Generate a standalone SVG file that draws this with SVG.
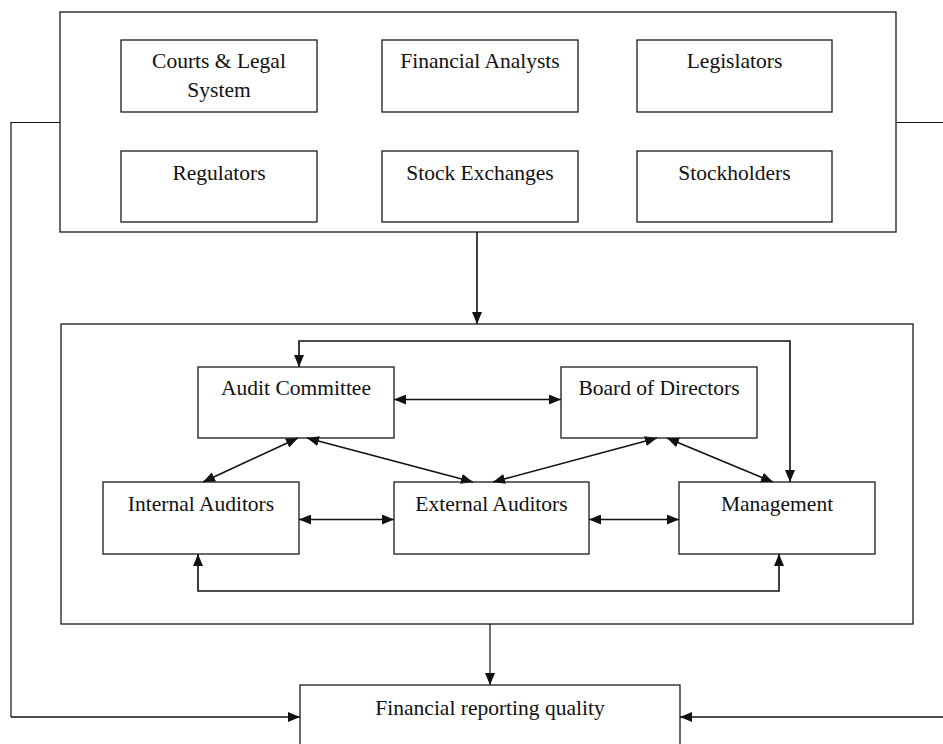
<svg xmlns="http://www.w3.org/2000/svg" width="943" height="744" viewBox="0 0 943 744">
  <style>
    .box { fill: #ffffff; stroke: #1a1a1a; stroke-width: 1.3; }
    .frame { fill: none; stroke: #1a1a1a; stroke-width: 1.3; }
    .lbl { font-family: "Liberation Serif", "Times New Roman", serif; font-size: 21.5px; fill: #111111; text-anchor: middle; }
    .wire { fill: none; stroke: #111111; stroke-width: 1.6; }
    .thin { fill: none; stroke: #111111; stroke-width: 1.2; }
  </style>
  <defs>
    <marker id="arrow" viewBox="0 0 12 10" refX="12" refY="5" markerWidth="12" markerHeight="10" markerUnits="userSpaceOnUse" orient="auto-start-reverse">
      <path d="M0,0 L12,5 L0,10 z" fill="#111111"/>
    </marker>
  </defs>

  <!-- external stakeholders -->
  <g id="stakeholders">
    <rect class="frame" x="60" y="12" width="836" height="220"/>
  </g>
  <g id="courts">
    <rect class="box" x="121" y="40" width="196" height="72"/>
    <text class="lbl" x="219" y="68">Courts &amp; Legal</text>
    <text class="lbl" x="219" y="97">System</text>
  </g>
  <g id="analysts">
    <rect class="box" x="382" y="40" width="196" height="72"/>
    <text class="lbl" x="480" y="68">Financial Analysts</text>
  </g>
  <g id="legislators">
    <rect class="box" x="637" y="40" width="195" height="72"/>
    <text class="lbl" x="734.5" y="68">Legislators</text>
  </g>
  <g id="regulators">
    <rect class="box" x="121" y="151" width="196" height="71"/>
    <text class="lbl" x="219" y="180">Regulators</text>
  </g>
  <g id="exchanges">
    <rect class="box" x="382" y="151" width="196" height="71"/>
    <text class="lbl" x="480" y="180">Stock Exchanges</text>
  </g>
  <g id="stockholders">
    <rect class="box" x="637" y="151" width="195" height="71"/>
    <text class="lbl" x="734.5" y="180">Stockholders</text>
  </g>

  <!-- corporate governance -->
  <g id="governance">
    <rect class="frame" x="61" y="324" width="852" height="300"/>
  </g>
  <g id="audit-committee">
    <rect class="box" x="198" y="367" width="196" height="71"/>
    <text class="lbl" x="296" y="395">Audit Committee</text>
  </g>
  <g id="board">
    <rect class="box" x="561" y="367" width="196" height="71"/>
    <text class="lbl" x="659" y="395">Board of Directors</text>
  </g>
  <g id="internal-auditors">
    <rect class="box" x="103" y="482" width="196" height="72"/>
    <text class="lbl" x="201" y="511">Internal Auditors</text>
  </g>
  <g id="external-auditors">
    <rect class="box" x="394" y="482" width="195" height="72"/>
    <text class="lbl" x="491.5" y="511">External Auditors</text>
  </g>
  <g id="management">
    <rect class="box" x="679" y="482" width="196" height="72"/>
    <text class="lbl" x="777" y="511">Management</text>
  </g>

  <!-- outcome -->
  <g id="reporting-quality">
    <rect class="box" x="300" y="685" width="380" height="70"/>
    <text class="lbl" x="490" y="715">Financial reporting quality</text>
  </g>

  <g id="connectors">
    <!-- stakeholders to governance -->
    <line class="wire" x1="477" y1="232" x2="477" y2="324" marker-end="url(#arrow)"/>
    <!-- governance to reporting quality -->
    <line class="thin" x1="490" y1="624" x2="490" y2="685" marker-end="url(#arrow)"/>
    <!-- stakeholders direct paths to reporting quality -->
    <polyline class="thin" points="60,122.5 11,122.5 11,717" />
    <line class="wire" x1="11" y1="717" x2="300" y2="717" marker-end="url(#arrow)"/>
    <line class="thin" x1="896" y1="122.5" x2="943" y2="122.5"/>
    <line class="wire" x1="943" y1="717" x2="680" y2="717" marker-end="url(#arrow)"/>

    <!-- governance interactions -->
    <line class="wire" x1="394" y1="399.5" x2="561" y2="399.5" marker-start="url(#arrow)" marker-end="url(#arrow)"/>
    <line class="wire" x1="299" y1="519.5" x2="394" y2="519.5" marker-start="url(#arrow)" marker-end="url(#arrow)"/>
    <line class="wire" x1="589" y1="519.5" x2="679" y2="519.5" marker-start="url(#arrow)" marker-end="url(#arrow)"/>
    <line class="wire" x1="298" y1="438" x2="203" y2="482" marker-start="url(#arrow)" marker-end="url(#arrow)"/>
    <line class="wire" x1="307" y1="438" x2="473" y2="482" marker-start="url(#arrow)" marker-end="url(#arrow)"/>
    <line class="wire" x1="657" y1="438" x2="493" y2="482" marker-start="url(#arrow)" marker-end="url(#arrow)"/>
    <line class="wire" x1="667" y1="438" x2="773" y2="482" marker-start="url(#arrow)" marker-end="url(#arrow)"/>
    <polyline class="wire" points="790,482 790,341 299,341 299,367" marker-start="url(#arrow)" marker-end="url(#arrow)"/>
    <polyline class="wire" points="198,554 198,591 779,591 779,554" marker-start="url(#arrow)" marker-end="url(#arrow)"/>
  </g>
</svg>
